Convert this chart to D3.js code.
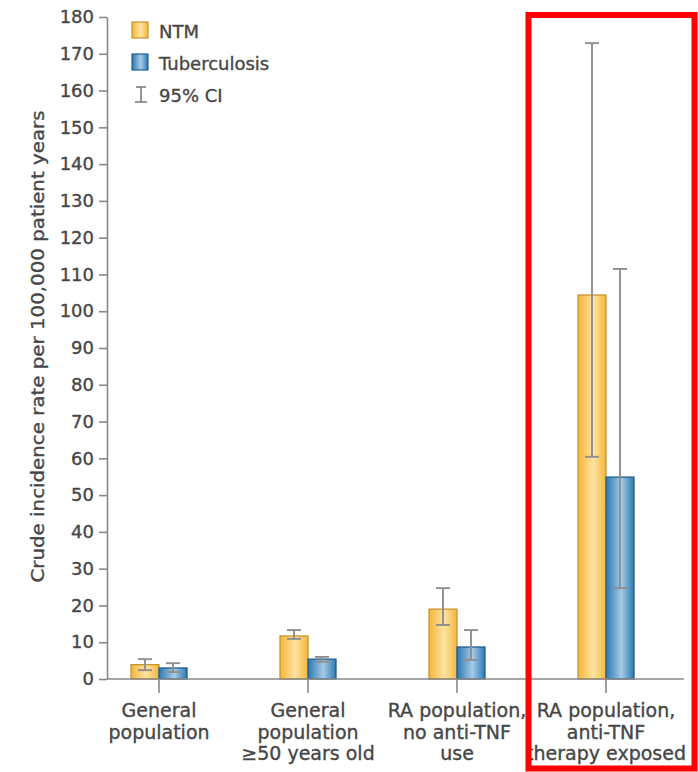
<!DOCTYPE html>
<html>
<head>
<meta charset="utf-8">
<script src="https://cdn.jsdelivr.net/npm/d3@7"></script>
<style>
  body { margin: 0; background: #fff; }
  svg text { font-family: "DejaVu Sans", sans-serif; fill: #464646; stroke: #464646; stroke-width: 0.35px; }
</style>
</head>
<body>
<div id="chart"></div>
<script>
const categories = [
  ["General", "population"],
  ["General", "population", "\u226550 years old"],
  ["RA population,", "no anti-TNF", "use"],
  ["RA population,", "anti-TNF", "therapy exposed"]
];
const seriesNames = ["NTM", "Tuberculosis"];
const ntmValues = [3.9, 11.7, 19.0, 104.4];
const ntmLow = [2.4, 10.9, 14.7, 60.4];
const ntmHigh = [5.4, 13.3, 24.7, 172.9];
const tbValues = [3.0, 5.4, 8.7, 54.9];
const tbLow = [1.9, 4.7, 5.2, 24.7];
const tbHigh = [4.3, 6.0, 13.3, 111.5];
const yTicks = d3.range(0, 181, 10);

const width = 698, height = 772;
const svg = d3.select("#chart").append("svg")
  .attr("width", width).attr("height", height);

const defs = svg.append("defs");
function grad(id, edge, mid) {
  const g = defs.append("linearGradient").attr("id", id)
    .attr("x1", "0%").attr("x2", "100%").attr("y1", "0%").attr("y2", "0%");
  g.append("stop").attr("offset", "0%").attr("stop-color", edge);
  g.append("stop").attr("offset", "55%").attr("stop-color", mid);
  g.append("stop").attr("offset", "100%").attr("stop-color", edge);
}
grad("gNTM", "#f5b63a", "#fee3a3");
grad("gTB", "#2b78b2", "#a6cbe6");
const fills = { NTM: "url(#gNTM)", Tuberculosis: "url(#gTB)" };
const strokes = { NTM: "#c8962e", Tuberculosis: "#215f8c" };

const axisX = 107;
const y = d3.scaleLinear().domain([0, 180]).range([679, 17]);
const x = d3.scalePoint().domain(d3.range(categories.length)).range([159, 606]);
const xs = d3.scaleBand().domain(seriesNames).range([-28, 28]).padding(0);

// y axis
const yAxis = svg.append("g").attr("transform", `translate(${axisX},0)`)
  .call(d3.axisLeft(y).tickValues(yTicks).tickSize(8).tickPadding(5).tickSizeOuter(0));
yAxis.select(".domain").attr("stroke", "#888").attr("stroke-width", 1.6);
yAxis.selectAll(".tick line").attr("stroke", "#888").attr("stroke-width", 1.6);
yAxis.selectAll(".tick text").style("font-size", "18px")
  .style("font-family", "'DejaVu Sans', sans-serif");

svg.append("text")
  .attr("transform", `translate(44,${(110 + 583) / 2}) rotate(-90)`)
  .attr("text-anchor", "middle")
  .style("font-size", "18px")
  .attr("textLength", 472)
  .attr("lengthAdjust", "spacingAndGlyphs")
  .text("Crude incidence rate per 100,000 patient years");

// bars
const rows = [];
categories.forEach((c, i) => {
  rows.push({ i, s: "NTM", v: ntmValues[i], lo: ntmLow[i], hi: ntmHigh[i] });
  rows.push({ i, s: "Tuberculosis", v: tbValues[i], lo: tbLow[i], hi: tbHigh[i] });
});

svg.append("g").selectAll("rect").data(rows).join("rect")
  .attr("x", d => x(d.i) + xs(d.s))
  .attr("width", xs.bandwidth())
  .attr("y", d => y(d.v))
  .attr("height", d => y(0) - y(d.v))
  .attr("fill", d => fills[d.s])
  .attr("stroke", d => strokes[d.s])
  .attr("stroke-width", 1.3);

// error bars
const eb = svg.append("g").attr("stroke", "#8f8f8f").attr("stroke-width", 1.9);
rows.forEach(d => {
  const cx = x(d.i) + xs(d.s) + xs.bandwidth() / 2;
  eb.append("line").attr("x1", cx).attr("x2", cx).attr("y1", y(d.lo)).attr("y2", y(d.hi));
  [d.lo, d.hi].forEach(v => {
    eb.append("line").attr("x1", cx - 7).attr("x2", cx + 7).attr("y1", y(v)).attr("y2", y(v));
  });
});

// baseline & category ticks
svg.append("line").attr("x1", axisX).attr("x2", 684).attr("y1", y(0)).attr("y2", y(0))
  .attr("stroke", "#888").attr("stroke-width", 1.6);
const cat = svg.append("g").selectAll("g").data(categories).join("g")
  .attr("transform", (d, i) => `translate(${x(i)},${y(0)})`);
cat.append("line").attr("y1", 0).attr("y2", 14).attr("stroke", "#888").attr("stroke-width", 1.6);
cat.each(function (d) {
  d3.select(this).selectAll("text").data(d).join("text")
    .attr("text-anchor", "middle")
    .attr("y", (t, k) => 38 + k * 21.5)
    .style("font-size", "19px")
    .text(t => t);
});

// legend
const lg = svg.append("g").attr("transform", "translate(132,0)");
seriesNames.forEach((s, k) => {
  lg.append("rect").attr("x", 0).attr("y", 22 + k * 32).attr("width", 16).attr("height", 16)
    .attr("fill", fills[s]).attr("stroke", strokes[s]).attr("stroke-width", 1.2);
  lg.append("text").attr("x", 27).attr("y", 38 + k * 32).style("font-size", "18px").text(s);
});
const ci = lg.append("g").attr("stroke", "#777").attr("stroke-width", 1.5);
ci.append("line").attr("x1", 9).attr("x2", 9).attr("y1", 87).attr("y2", 102);
ci.append("line").attr("x1", 4).attr("x2", 14).attr("y1", 87).attr("y2", 87);
ci.append("line").attr("x1", 3).attr("x2", 15).attr("y1", 102).attr("y2", 102);
lg.append("text").attr("x", 27).attr("y", 102).style("font-size", "18px").text("95% CI");

// highlight box
svg.append("rect").attr("x", 528.5).attr("y", 15).attr("width", 166).attr("height", 753.5)
  .attr("fill", "none").attr("stroke", "#ff0000").attr("stroke-width", 6);
</script>
</body>
</html>
